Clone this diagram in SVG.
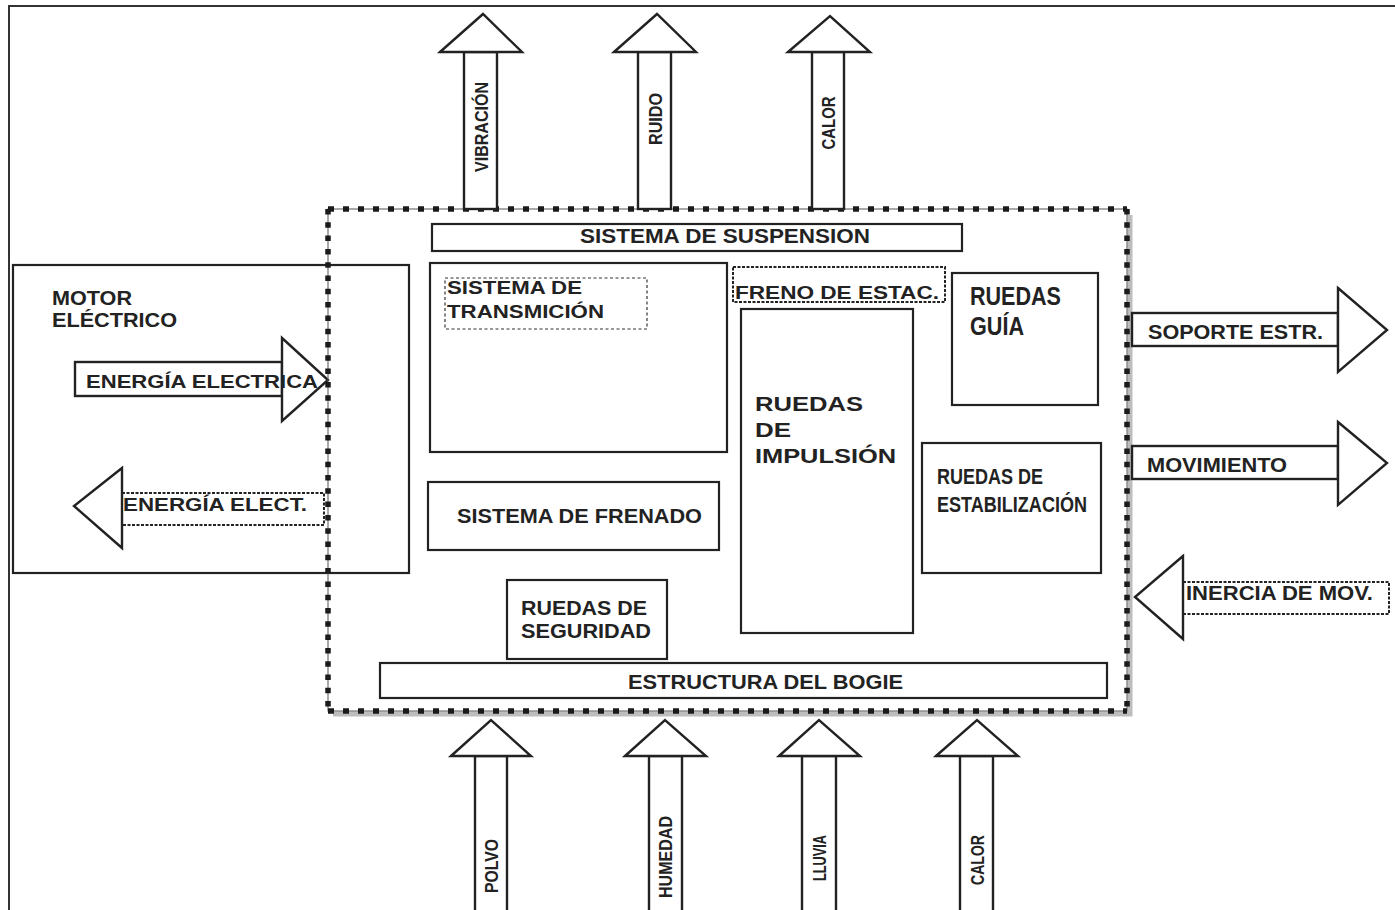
<svg xmlns="http://www.w3.org/2000/svg" width="1395" height="910" viewBox="0 0 1395 910">
  <style>
    .box { fill: #fff; stroke: #222; stroke-width: 2.2; }
    .dash { fill: #fff; stroke: #222; stroke-width: 2; stroke-dasharray: 3 1.5; }
    .thin { fill: none; stroke: #333; stroke-width: 1.2; stroke-dasharray: 3 2.5; }
    .arr { fill: #fff; stroke: #222; stroke-width: 2.4; stroke-linejoin: miter; }
    .t { font-family: "Liberation Sans", Arial, sans-serif; font-weight: bold; fill: #222; }
    .frame { fill: none; stroke: #333; stroke-width: 2; }
  </style>

  <rect x="0" y="0" width="1395" height="910" fill="#fff"/>
  <path class="frame" d="M9,910 V6 H1395"/>

  <!-- Motor -->
  <g id="motor">
    <rect class="box" x="13" y="265" width="396" height="308"/>
    <text class="t" x="52" y="305" font-size="20" textLength="80" lengthAdjust="spacingAndGlyphs">MOTOR</text>
    <text class="t" x="52" y="327" font-size="20" textLength="125" lengthAdjust="spacingAndGlyphs">ELÉCTRICO</text>
  </g>

  <!-- Flows between the motor and the bogie -->
  <g id="flows-motor">
    <g id="energia-electrica">
      <rect class="arr" x="75" y="362" width="207" height="34"/>
      <polygon class="arr" points="282,338 328,380 282,421"/>
      <text class="t" x="86" y="388" font-size="19" textLength="232" lengthAdjust="spacingAndGlyphs">ENERGÍA ELECTRICA</text>
    </g>
    <g id="energia-elect">
      <rect class="dash" x="122" y="493" width="202" height="32"/>
      <polygon class="arr" points="122,468 74,506 122,548"/>
      <text class="t" x="123" y="511" font-size="19" textLength="184" lengthAdjust="spacingAndGlyphs">ENERGÍA ELECT.</text>
    </g>
  </g>

  <!-- Bogie boundary -->
  <g id="bogie-boundary">
    <path d="M1130,215 V714 H333" fill="none" stroke="#bdbdbd" stroke-width="5"/>
    <rect x="328" y="209" width="799" height="502" fill="none" stroke="#555" stroke-width="1"/>
    <path d="M328,209 H1127 M328,711 H1127" fill="none" stroke="#1a1a1a" stroke-width="5.5" stroke-dasharray="6 9"/>
    <path d="M328,209 V711 M1127,209 V711" fill="none" stroke="#1a1a1a" stroke-width="5.5" stroke-dasharray="5.5 7.8"/>
  </g>

  <!-- Components inside the bogie -->
  <g id="suspension">
    <rect class="box" x="432" y="224" width="530" height="27"/>
    <text class="t" x="580" y="243" font-size="20" textLength="290" lengthAdjust="spacingAndGlyphs">SISTEMA DE SUSPENSION</text>
  </g>

  <g id="transmision">
    <rect class="box" x="430" y="263" width="297" height="189"/>
    <rect class="thin" x="445" y="278" width="202" height="51"/>
    <text class="t" x="447" y="294" font-size="18" textLength="135" lengthAdjust="spacingAndGlyphs">SISTEMA DE</text>
    <text class="t" x="447" y="318" font-size="18" textLength="157" lengthAdjust="spacingAndGlyphs">TRANSMICIÓN</text>
  </g>

  <g id="freno-estac">
    <rect class="dash" x="733" y="267" width="212" height="35"/>
    <text class="t" x="735" y="299" font-size="19" textLength="204" lengthAdjust="spacingAndGlyphs">FRENO DE ESTAC.</text>
  </g>

  <g id="ruedas-impulsion">
    <rect class="box" x="741" y="309" width="172" height="324"/>
    <text class="t" x="755" y="411" font-size="21" textLength="108" lengthAdjust="spacingAndGlyphs">RUEDAS</text>
    <text class="t" x="755" y="437" font-size="21" textLength="36" lengthAdjust="spacingAndGlyphs">DE</text>
    <text class="t" x="755" y="463" font-size="21" textLength="141" lengthAdjust="spacingAndGlyphs">IMPULSIÓN</text>
  </g>

  <g id="ruedas-guia">
    <rect class="box" x="952" y="273" width="146" height="132"/>
    <text class="t" x="970" y="305" font-size="25" textLength="91" lengthAdjust="spacingAndGlyphs">RUEDAS</text>
    <text class="t" x="970" y="335" font-size="25" textLength="54" lengthAdjust="spacingAndGlyphs">GUÍA</text>
  </g>

  <g id="ruedas-estabilizacion">
    <rect class="box" x="922" y="443" width="179" height="130"/>
    <text class="t" x="937" y="484" font-size="22" textLength="106" lengthAdjust="spacingAndGlyphs">RUEDAS DE</text>
    <text class="t" x="937" y="512" font-size="22" textLength="150" lengthAdjust="spacingAndGlyphs">ESTABILIZACIÓN</text>
  </g>

  <g id="frenado">
    <rect class="box" x="428" y="482" width="291" height="68"/>
    <text class="t" x="457" y="523" font-size="19.5" textLength="245" lengthAdjust="spacingAndGlyphs">SISTEMA DE FRENADO</text>
  </g>

  <g id="ruedas-seguridad">
    <rect class="box" x="507" y="580" width="160" height="79"/>
    <text class="t" x="521" y="615" font-size="20" textLength="126" lengthAdjust="spacingAndGlyphs">RUEDAS DE</text>
    <text class="t" x="521" y="638" font-size="20" textLength="130" lengthAdjust="spacingAndGlyphs">SEGURIDAD</text>
  </g>

  <g id="estructura">
    <rect class="box" x="380" y="663" width="727" height="35"/>
    <text class="t" x="628" y="689" font-size="19.5" textLength="275" lengthAdjust="spacingAndGlyphs">ESTRUCTURA DEL BOGIE</text>
  </g>

  <!-- Inputs and outputs of the bogie -->
  <g id="connectors">
    <!-- outputs upward -->
    <g id="vibracion">
      <rect class="arr" x="464" y="52" width="33" height="157"/>
      <polygon class="arr" points="440,52 483,14 522,52"/>
      <text class="t" font-size="19" text-anchor="middle" textLength="90" lengthAdjust="spacingAndGlyphs" transform="translate(488,127) rotate(-90)">VIBRACIÓN</text>
    </g>
    <g id="ruido">
      <rect class="arr" x="638" y="52" width="33" height="157"/>
      <polygon class="arr" points="614,52 657,14 696,52"/>
      <text class="t" font-size="19" text-anchor="middle" textLength="52" lengthAdjust="spacingAndGlyphs" transform="translate(662,119) rotate(-90)">RUIDO</text>
    </g>
    <g id="calor-sal">
      <rect class="arr" x="812" y="52" width="32" height="157"/>
      <polygon class="arr" points="788,52 830,16 870,52"/>
      <text class="t" font-size="19" text-anchor="middle" textLength="53" lengthAdjust="spacingAndGlyphs" transform="translate(835,123) rotate(-90)">CALOR</text>
    </g>

    <!-- outputs to the right -->
    <g id="soporte">
      <rect class="arr" x="1132" y="313" width="206" height="33"/>
      <polygon class="arr" points="1338,288 1387,330 1338,372"/>
      <text class="t" x="1148" y="339" font-size="19.5" textLength="175" lengthAdjust="spacingAndGlyphs">SOPORTE ESTR.</text>
    </g>
    <g id="movimiento">
      <rect class="arr" x="1132" y="446" width="206" height="33"/>
      <polygon class="arr" points="1338,422 1387,463 1338,505"/>
      <text class="t" x="1147" y="472" font-size="19.5" textLength="140" lengthAdjust="spacingAndGlyphs">MOVIMIENTO</text>
    </g>

    <!-- input from the right -->
    <g id="inercia">
      <rect class="dash" x="1183" y="582" width="206" height="32"/>
      <polygon class="arr" points="1183,556 1135,597 1183,639"/>
      <text class="t" x="1186" y="600" font-size="19.5" textLength="187" lengthAdjust="spacingAndGlyphs">INERCIA DE MOV.</text>
    </g>

    <!-- inputs from below -->
    <g id="polvo">
      <rect class="arr" x="475" y="756" width="32" height="160"/>
      <polygon class="arr" points="451,756 491,720 531,756"/>
      <text class="t" font-size="19" text-anchor="middle" textLength="54" lengthAdjust="spacingAndGlyphs" transform="translate(498,866) rotate(-90)">POLVO</text>
    </g>
    <g id="humedad">
      <rect class="arr" x="649" y="756" width="33" height="160"/>
      <polygon class="arr" points="625,756 665,720 706,756"/>
      <text class="t" font-size="19" text-anchor="middle" textLength="82" lengthAdjust="spacingAndGlyphs" transform="translate(672,857) rotate(-90)">HUMEDAD</text>
    </g>
    <g id="lluvia">
      <rect class="arr" x="802" y="756" width="34" height="160"/>
      <polygon class="arr" points="779,756 819,720 860,756"/>
      <text class="t" font-size="19" text-anchor="middle" textLength="46" lengthAdjust="spacingAndGlyphs" transform="translate(826,858) rotate(-90)">LLUVIA</text>
    </g>
    <g id="calor-ent">
      <rect class="arr" x="960" y="756" width="33" height="160"/>
      <polygon class="arr" points="936,756 977,720 1018,756"/>
      <text class="t" font-size="19" text-anchor="middle" textLength="50" lengthAdjust="spacingAndGlyphs" transform="translate(984,860) rotate(-90)">CALOR</text>
    </g>
  </g>
</svg>
